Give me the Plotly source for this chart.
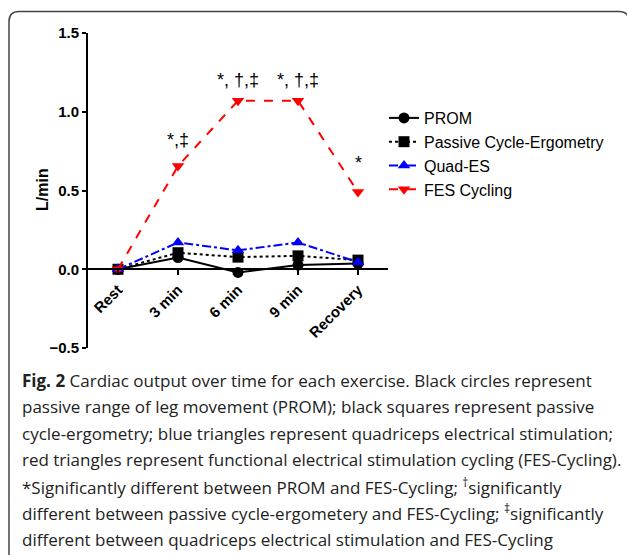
import plotly.graph_objects as go

categories = ["Rest", "3 min", "6 min", "9 min", "Recovery"]
prom = [0.0, 0.074, -0.02, 0.027, 0.036]
passive = [0.0, 0.105, 0.077, 0.085, 0.058]
quad_es = [0.0, 0.17, 0.12, 0.17, 0.045]
fes = [0.0, 0.655, 1.07, 1.07, 0.49]

sig_labels = ["*,‡", "*, †,‡", "*, †,‡", "*"]
sig_cats = ["3 min", "6 min", "9 min", "Recovery"]
sig_y = [0.82, 1.20, 1.20, 0.675]

caption_lines = [
    "<b>Fig. 2</b> Cardiac output over time for each exercise. Black circles represent",
    "passive range of leg movement (PROM); black squares represent passive",
    "cycle-ergometry; blue triangles represent quadriceps electrical stimulation;",
    "red triangles represent functional electrical stimulation cycling (FES-Cycling).",
    "*Significantly different between PROM and FES-Cycling; <sup>†</sup>significantly",
    "different between passive cycle-ergometery and FES-Cycling; <sup>‡</sup>significantly",
    "different between quadriceps electrical stimulation and FES-Cycling",
]

W, H = 627, 555
L, R, T, B = 88, 239, 33, 207
PW, PH = W - L - R, H - T - B


def px(x):
    return (x - L) / PW


def py(y):
    return (H - B - y) / PH


fig = go.Figure()
series = [
    ("PROM", prom, "black", "solid", "circle"),
    ("Passive Cycle-Ergometry", passive, "black", "dot", "square"),
    ("Quad-ES", quad_es, "blue", "dashdot", "triangle-up"),
    ("FES Cycling", fes, "red", "dash", "triangle-down"),
]
for i, (name, vals, col, dash, sym) in enumerate(series):
    fig.add_trace(go.Scatter(
        x=categories, y=vals, name=name, mode="lines+markers",
        line=dict(color=col, width=2, dash=dash),
        marker=dict(symbol=sym, size=11, color=col),
        legendgroup=f"g{i}",
    ))

for lab, c, yv in zip(sig_labels, sig_cats, sig_y):
    fig.add_annotation(x=c, y=yv, text=lab, showarrow=False,
                       font=dict(family="Liberation Sans, Arial", size=18, color="black"))

fig.add_annotation(xref="paper", yref="paper", x=px(42), y=py(190), text="<b>L/min</b>",
                   textangle=-90, showarrow=False, xanchor="center", yanchor="middle",
                   font=dict(family="Liberation Sans, Arial", size=16, color="black"))

for i, line in enumerate(caption_lines):
    fig.add_annotation(xref="paper", yref="paper", x=px(20), y=py(380 + 26.5 * i),
                       xanchor="left", yanchor="middle", text=line, showarrow=False,
                       font=dict(family="Open Sans", size=17, color="#222"))

# rounded frame
xl, xr = px(9), px(629)
yt, yb = py(11.5), py(570)
rx, ry = 10 / PW, 10 / PH
path = (f"M{xl},{yb} L{xl},{yt - ry} Q{xl},{yt} {xl + rx},{yt} "
        f"L{xr - rx},{yt} Q{xr},{yt} {xr},{yt - ry} L{xr},{yb}")
fig.add_shape(type="path", xref="paper", yref="paper", path=path,
              line=dict(color="#444", width=1.5))

fig.update_layout(
    width=W, height=H, margin=dict(l=L, r=R, t=T, b=B),
    paper_bgcolor="white", plot_bgcolor="white",
    showlegend=True,
    legend=dict(x=px(384), y=py(101), xanchor="left", yanchor="top",
                font=dict(family="Liberation Sans, Arial", size=16, color="black"),
                tracegroupgap=0, traceorder="grouped", bgcolor="rgba(0,0,0,0)",
                itemwidth=30),
)
fig.update_xaxes(
    type="category", range=[-0.5, 4.5], anchor="free", position=0.25,
    showline=True, linecolor="black", linewidth=2, showgrid=False, zeroline=False,
    ticks="outside", ticklen=5, tickwidth=2, tickcolor="black", tickangle=-45,
    tickfont=dict(family="Liberation Sans, Arial", size=15, color="black", weight="bold"),
)
fig.update_yaxes(
    range=[-0.5, 1.5], dtick=0.5, tickformat=".1f",
    showline=True, linecolor="black", linewidth=2, showgrid=False, zeroline=False,
    ticks="outside", ticklen=4, tickwidth=2, tickcolor="black",
    tickfont=dict(family="Liberation Sans, Arial", size=15, color="black", weight="bold"),
)

fig.write_html("out.html", config={"displayModeBar": False},
               post_script="document.body.style.margin='0';document.body.style.overflow='hidden';")
